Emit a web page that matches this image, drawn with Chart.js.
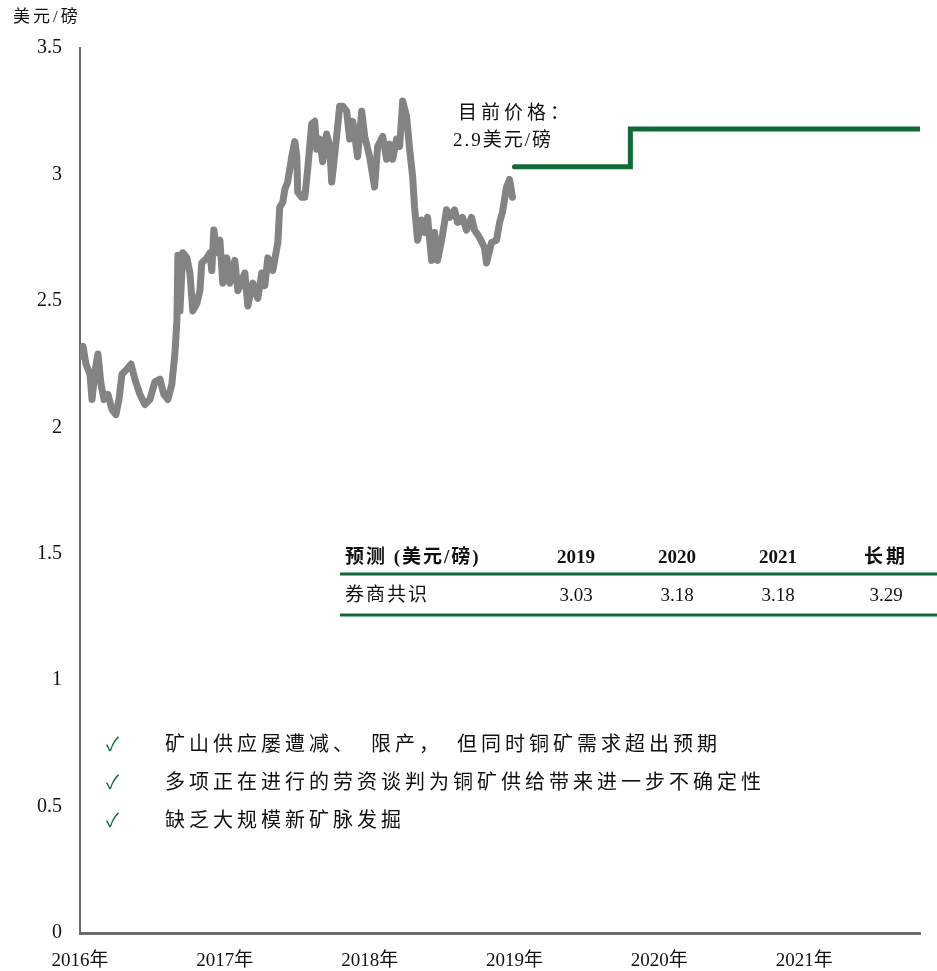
<!DOCTYPE html>
<html>
<head>
<meta charset="utf-8">
<script src="https://cdn.jsdelivr.net/npm/chart.js@4"></script>
<style>
  html, body { margin: 0; padding: 0; background: #fff; }
  #wrap { width: 937px; height: 971px; }
</style>
</head>
<body>
<div id="wrap"><canvas id="copper" width="937" height="971"></canvas></div>
<script>
// 铜价（美元/磅），按年份小数记
const priceYears = [
    2016.000, 2016.021, 2016.041, 2016.069, 2016.083, 2016.103, 2016.124, 2016.145, 2016.166, 2016.193,
    2016.221, 2016.248, 2016.269, 2016.290, 2016.324, 2016.352, 2016.379, 2016.414, 2016.448, 2016.483,
    2016.517, 2016.552, 2016.579, 2016.607, 2016.634, 2016.655, 2016.669, 2016.676, 2016.690, 2016.710,
    2016.738, 2016.759, 2016.779, 2016.807, 2016.828, 2016.841, 2016.876, 2016.897, 2016.910, 2016.924,
    2016.945, 2016.966, 2016.986, 2017.014, 2017.034, 2017.069, 2017.090, 2017.138, 2017.159, 2017.193,
    2017.228, 2017.255, 2017.276, 2017.297, 2017.331, 2017.366, 2017.379, 2017.400, 2017.414, 2017.434,
    2017.462, 2017.483, 2017.497, 2017.503, 2017.531, 2017.552, 2017.572, 2017.600, 2017.621, 2017.634,
    2017.655, 2017.676, 2017.703, 2017.724, 2017.738, 2017.759, 2017.779, 2017.793, 2017.814, 2017.841,
    2017.862, 2017.883, 2017.917, 2017.945, 2017.966, 2018.000, 2018.034, 2018.055, 2018.090, 2018.117,
    2018.138, 2018.159, 2018.186, 2018.207, 2018.228, 2018.255, 2018.276, 2018.297, 2018.310, 2018.331,
    2018.359, 2018.379, 2018.400, 2018.428, 2018.448, 2018.469, 2018.497, 2018.531, 2018.552, 2018.586,
    2018.607, 2018.641, 2018.669, 2018.703, 2018.724, 2018.759, 2018.793, 2018.807, 2018.841, 2018.876,
    2018.897, 2018.917, 2018.945, 2018.966, 2018.986
];
const priceValues = [
    2.28, 2.32, 2.25, 2.21, 2.11, 2.22, 2.29, 2.17, 2.11, 2.13,
    2.07, 2.05, 2.11, 2.21, 2.23, 2.25, 2.19, 2.13, 2.09, 2.11,
    2.18, 2.19, 2.13, 2.11, 2.17, 2.29, 2.42, 2.68, 2.46, 2.69,
    2.67, 2.61, 2.46, 2.49, 2.54, 2.65, 2.67, 2.69, 2.62, 2.78,
    2.69, 2.74, 2.57, 2.67, 2.57, 2.66, 2.54, 2.61, 2.48, 2.57,
    2.51, 2.61, 2.56, 2.67, 2.62, 2.73, 2.87, 2.89, 2.94, 2.97,
    3.07, 3.13, 3.07, 2.93, 2.91, 2.91, 3.02, 3.20, 3.21, 3.10,
    3.14, 3.05, 3.16, 3.11, 2.97, 3.08, 3.19, 3.27, 3.27, 3.25,
    3.14, 3.21, 3.07, 3.25, 3.15, 3.07, 2.95, 3.11, 3.15, 3.06,
    3.12, 3.06, 3.14, 3.11, 3.29, 3.23, 3.10, 2.99, 2.87, 2.74,
    2.82, 2.77, 2.83, 2.66, 2.77, 2.66, 2.74, 2.86, 2.83, 2.86,
    2.81, 2.83, 2.78, 2.83, 2.78, 2.75, 2.71, 2.65, 2.73, 2.74,
    2.81, 2.85, 2.95, 2.98, 2.91
];

// 券商共识预测（阶梯线）
const forecastYears = [2019.0, 2019.8, 2021.8];
const forecastValues = [3.03, 3.18, 3.18];

// 坐标轴
const xMin = 2016;
const xMax = 2021.8;
const xTicks = [2016, 2017, 2018, 2019, 2020, 2021];
const yTicks = [0, 0.5, 1, 1.5, 2, 2.5, 3, 3.5];
const yTickLabels = ['0', '0.5', '1', '1.5', '2', '2.5', '3', '3.5'];

// 预测表
const tableHeaders = ['预测 (美元/磅)', '2019', '2020', '2021', '长期'];
const tableRow = ['券商共识', '3.03', '3.18', '3.18', '3.29'];

// 要点（标点后留出宋体式的宽空）
const bulletTexts = [
    '矿山供应屡遭减、\u2002限产，\u2002但同时铜矿需求超出预期',
    '多项正在进行的劳资谈判为铜矿供给带来进一步不确定性',
    '缺乏大规模新矿脉发掘'
];

const unitLabel = '美元/磅';
const currentPriceNote = ['目前价格：', '2.9美元/磅'];

const FONT = "'Liberation Serif', 'Noto Sans CJK SC', serif";
const GREEN = '#0f6a36';

// 文本、表格、要点绘制
const overlayPlugin = {
    id: 'overlay',
    afterDraw(chart) {
        const ctx = chart.ctx;
        ctx.save();
        ctx.fillStyle = '#111';
        ctx.textBaseline = 'middle';

        // 单位
        ctx.font = '17px ' + FONT;
        ctx.textAlign = 'left';
        ctx.letterSpacing = '3px';
        ctx.fillText(unitLabel, 13, 18);

        // 目前价格注释
        ctx.font = '19px ' + FONT;
        ctx.textAlign = 'left';
        ctx.letterSpacing = '4px';
        ctx.fillText(currentPriceNote[0], 458, 114);
        ctx.letterSpacing = '2px';
        ctx.fillText(currentPriceNote[1], 453, 141);

        // 预测表
        const colX = [345, 576, 677, 778, 886];
        ctx.font = 'bold 19px ' + FONT;
        tableHeaders.forEach((h, i) => {
            ctx.textAlign = i === 0 ? 'left' : 'center';
            ctx.letterSpacing = i === 0 ? '2px' : (i === 4 ? '3px' : '0px');
            ctx.fillText(h, colX[i], 558);
        });
        ctx.font = '19px ' + FONT;
        tableRow.forEach((v, i) => {
            ctx.textAlign = i === 0 ? 'left' : 'center';
            ctx.letterSpacing = i === 0 ? '2px' : '0px';
            ctx.fillText(v, colX[i], 596);
        });
        ctx.letterSpacing = '0px';
        ctx.strokeStyle = GREEN;
        ctx.lineWidth = 3;
        ctx.beginPath();
        ctx.moveTo(340, 574); ctx.lineTo(937, 574);
        ctx.moveTo(340, 615); ctx.lineTo(937, 615);
        ctx.stroke();

        // 要点
        bulletTexts.forEach((t, i) => {
            const y = 746 + i * 38;
            ctx.textAlign = 'left';
            ctx.fillStyle = GREEN;
            ctx.font = '19px ' + FONT;
            ctx.letterSpacing = '0px';
            ctx.fillText('✓', 106, y);
            ctx.fillStyle = '#111';
            ctx.font = '20px ' + FONT;
            ctx.letterSpacing = '4px';
            ctx.fillText(t, 165, y);
        });
        ctx.restore();
    }
};

new Chart(document.getElementById('copper').getContext('2d'), {
    type: 'line',
    data: {
        datasets: [{
            data: priceYears.map((x, i) => ({ x: x, y: priceValues[i] })),
            borderColor: '#838383',
            borderWidth: 7,
            borderJoinStyle: 'round',
            borderCapStyle: 'round',
            pointRadius: 0,
            tension: 0
        }, {
            data: forecastYears.map((x, i) => ({ x: x, y: forecastValues[i] })),
            borderColor: GREEN,
            borderWidth: 5,
            borderCapStyle: 'round',
            pointRadius: 0,
            stepped: true
        }]
    },
    options: {
        responsive: false,
        animation: false,
        layout: { padding: { top: 48, right: 17, left: 0, bottom: 0 } },
        plugins: {
            legend: { display: false },
            tooltip: { enabled: false }
        },
        scales: {
            x: {
                type: 'linear',
                min: xMin,
                max: xMax,
                afterBuildTicks(axis) {
                    axis.ticks = xTicks.map(v => ({ value: v }));
                },
                afterFit(axis) { axis.height = 38; },
                grid: { display: false, drawTicks: false },
                border: { color: '#6b6b6b', width: 3 },
                ticks: {
                    padding: 17,
                    maxRotation: 0,
                    autoSkip: false,
                    color: '#111',
                    font: { family: FONT, size: 19 },
                    callback: v => v + '年'
                }
            },
            y: {
                min: 0,
                max: 3.5,
                afterBuildTicks(axis) {
                    axis.ticks = yTicks.map(v => ({ value: v }));
                },
                afterFit(axis) { axis.width = 80; },
                grid: { display: false, drawTicks: false },
                border: { color: '#6b6b6b', width: 2 },
                ticks: {
                    padding: 18,
                    color: '#111',
                    font: { family: FONT, size: 20 },
                    callback: v => yTickLabels[yTicks.indexOf(v)]
                }
            }
        }
    },
    plugins: [overlayPlugin]
});
</script>
</body>
</html>
